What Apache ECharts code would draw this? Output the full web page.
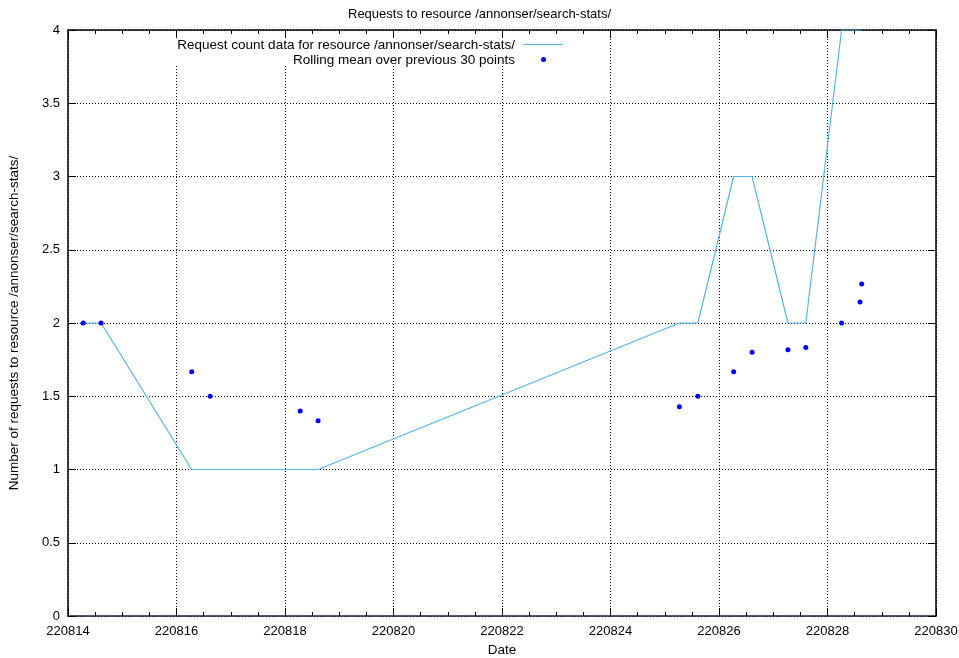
<!DOCTYPE html>
<html>
<head>
<meta charset="utf-8">
<script src="https://cdn.jsdelivr.net/npm/echarts@6/dist/echarts.min.js"></script>
<style>
html,body{margin:0;padding:0;background:#fff;}
#chart{width:959px;height:658px;}
</style>
</head>
<body>
<div id="chart"></div>
<script>
// Data
const dates = [220814.28, 220814.61, 220816.28, 220816.62, 220818.28, 220818.61,
               220825.27, 220825.61, 220826.27, 220826.61, 220827.27, 220827.60,
               220828.26, 220828.60, 220828.63];
const requestCounts = [2, 2, 1, 1, 1, 1, 2, 2, 3, 3, 2, 2, 4, 4, 4];
const rollingMeans = [2, 2, 1.667, 1.5, 1.4, 1.333, 1.429, 1.5, 1.667, 1.8, 1.818, 1.833, 2.0, 2.143, 2.267];
const xTicks = {min: 220814, max: 220830, step: 2};
const yTicks = {min: 0, max: 4, step: 0.5};

const titleText = 'Requests to resource /annonser/search-stats/';
const seriesNames = ['Request count data for resource /annonser/search-stats/', 'Rolling mean over previous 30 points'];
const xTitle = 'Date';
const yTitle = 'Number of requests to resource /annonser/search-stats/';

const FONT = '"Liberation Sans", Arial, sans-serif';
const chart = echarts.init(document.getElementById('chart'), null, {renderer: 'canvas'});

const lineData = dates.map((d, i) => [d, requestCounts[i]]);
const meanData = dates.map((d, i) => [d, rollingMeans[i]]);

const gridStyle = {show: true, lineStyle: {color: '#000', width: 1, type: [1, 2]}};

chart.setOption({
  animation: false,
  backgroundColor: '#fff',
  title: {
    text: titleText, left: 'center', top: 3,
    textStyle: {fontFamily: FONT, fontSize: 13, fontWeight: 'normal', color: '#000'}
  },
  grid: {left: 68, top: 30, right: 23, bottom: 42, containLabel: false, outerBoundsMode: 'none'},
  xAxis: [{
    type: 'value', min: xTicks.min, max: xTicks.max, interval: xTicks.step,
    position: 'bottom',
    name: xTitle, nameLocation: 'middle', nameGap: 27,
    nameTextStyle: {fontFamily: FONT, fontSize: 13.5, color: '#000'},
    axisLine: {show: true, onZero: false, lineStyle: {color: '#2d1640', width: 1.5}},
    axisTick: {show: true, inside: true, length: 8, lineStyle: {color: '#000'}},
    minorTick: {show: true, splitNumber: 4, length: 4, lineStyle: {color: '#000'}},
    axisLabel: {fontFamily: FONT, fontSize: 13, color: '#000', margin: 9, formatter: v => String(v)},
    splitLine: gridStyle
  }, {
    type: 'value', min: xTicks.min, max: xTicks.max, interval: xTicks.step,
    position: 'top',
    axisLine: {show: true, onZero: false, lineStyle: {color: '#000', width: 1.5}},
    axisTick: {show: true, inside: true, length: 8, lineStyle: {color: '#000'}},
    minorTick: {show: true, splitNumber: 4, length: 4, lineStyle: {color: '#000'}},
    axisLabel: {show: false},
    splitLine: {show: false}
  }],
  yAxis: [{
    type: 'value', min: yTicks.min, max: yTicks.max, interval: yTicks.step,
    position: 'left',
    name: yTitle, nameLocation: 'middle', nameGap: 47, nameRotate: 90,
    nameTextStyle: {fontFamily: FONT, fontSize: 13.5, color: '#000'},
    axisLine: {show: true, onZero: false, lineStyle: {color: '#000', width: 1.5}},
    axisTick: {show: true, inside: true, length: 8, lineStyle: {color: '#000'}},
    axisLabel: {fontFamily: FONT, fontSize: 13, color: '#000', margin: 8},
    splitLine: gridStyle
  }, {
    type: 'value', min: yTicks.min, max: yTicks.max, interval: yTicks.step,
    position: 'right',
    axisLine: {show: true, onZero: false, lineStyle: {color: '#000', width: 1.5}},
    axisTick: {show: true, inside: true, length: 8, lineStyle: {color: '#000'}},
    axisLabel: {show: false},
    splitLine: {show: false}
  }],
  series: [{
    name: seriesNames[0], type: 'line', data: lineData,
    xAxisIndex: 0, yAxisIndex: 0,
    showSymbol: false, symbol: 'none', clip: true,
    lineStyle: {color: '#56b4e9', width: 1.2},
    z: 3
  }, {
    name: seriesNames[1], type: 'scatter', data: meanData,
    xAxisIndex: 0, yAxisIndex: 0,
    symbol: 'circle', symbolSize: 5,
    itemStyle: {color: '#0000ff', opacity: 1},
    z: 4
  }],
  graphic: [
    {type: 'rect', z: 50, shape: {x: 171, y: 38, width: 400, height: 27}, style: {fill: '#fff'}, silent: true},
    {type: 'text', z: 51, x: 515, y: 45, style: {text: seriesNames[0], align: 'right', verticalAlign: 'middle', fontFamily: FONT, fontSize: 13.5, fill: '#000'}},
    {type: 'text', z: 51, x: 515, y: 60, style: {text: seriesNames[1], align: 'right', verticalAlign: 'middle', fontFamily: FONT, fontSize: 13.5, fill: '#000'}},
    {type: 'line', z: 51, shape: {x1: 523, y1: 44.5, x2: 563, y2: 44.5}, style: {stroke: '#56b4e9', lineWidth: 1.2}},
    {type: 'circle', z: 51, shape: {cx: 543.5, cy: 59.5, r: 2.5}, style: {fill: '#0000ff'}}
  ]
});
</script>
</body>
</html>
